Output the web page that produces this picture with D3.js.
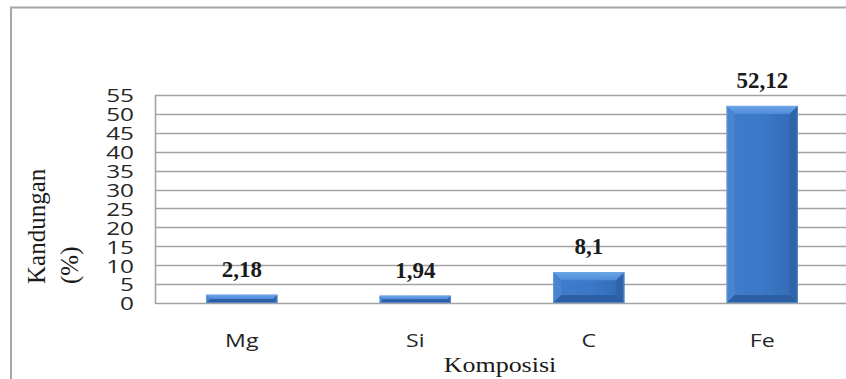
<!DOCTYPE html>
<html>
<head>
<meta charset="utf-8">
<script src="https://cdn.jsdelivr.net/npm/d3@7/dist/d3.min.js"></script>
<style>
  html, body { margin: 0; padding: 0; background: #fff; }
  svg { display: block; }
</style>
</head>
<body>
<svg id="chart" width="846" height="379"></svg>
<script>
// Element composition (percent)
const categories = ["Mg", "Si", "C", "Fe"];
const values = [2.18, 1.94, 8.1, 52.12];
const valueLabels = ["2,18", "1,94", "8,1", "52,12"];
const yTicks = [0, 5, 10, 15, 20, 25, 30, 35, 40, 45, 50, 55];

const svg = d3.select("#chart");
const W = 846, H = 379;
const plot = { left: 155, right: 849, top: 95, bottom: 303 };

const x = d3.scaleBand()
  .domain(categories)
  .range([plot.left, plot.right])
  .paddingInner(0.59)
  .paddingOuter(0.295);

const y = d3.scaleLinear()
  .domain([0, 55])
  .range([plot.bottom, plot.top]);

// Outer chart frame
svg.append("rect")
  .attr("x", 11).attr("y", 7.5)
  .attr("width", W + 10).attr("height", H + 10)
  .attr("fill", "#fff")
  .attr("stroke", "#a6a6a6").attr("stroke-width", 2);

// Gridlines
svg.append("g")
  .selectAll("line")
  .data(yTicks)
  .join("line")
  .attr("x1", plot.left).attr("x2", plot.right)
  .attr("y1", d => Math.round(y(d)) + 0.5)
  .attr("y2", d => Math.round(y(d)) + 0.5)
  .attr("stroke", "#a3a3a3").attr("stroke-width", 1.6);

// Plot area left edge
svg.append("line")
  .attr("x1", plot.left + 0.5).attr("x2", plot.left + 0.5)
  .attr("y1", y(55)).attr("y2", y(0) + 1)
  .attr("stroke", "#a3a3a3").attr("stroke-width", 1.6);

// Y axis tick labels (narrow-height, wide digits, stacked tightly)
const yAxis = d3.axisLeft(y).tickValues(yTicks).tickSize(0).tickPadding(0);
const gy = svg.append("g")
  .attr("transform", `translate(134,0)`)
  .call(yAxis);
gy.select(".domain").remove();
gy.selectAll("text")
  .attr("font-family", "'Open Sans', sans-serif")
  .attr("font-size", 19)
  .attr("fill", "#262626")
  .attr("dy", "0.36em")
  .attr("transform", "scale(1.28,1)");

// Bar gradients
const defs = svg.append("defs");
const body = defs.append("linearGradient").attr("id", "barBody")
  .attr("x1", 0).attr("y1", 0).attr("x2", 1).attr("y2", 0);
body.append("stop").attr("offset", "0%").attr("stop-color", "#3f7dcc");
body.append("stop").attr("offset", "50%").attr("stop-color", "#3b78c7");
body.append("stop").attr("offset", "100%").attr("stop-color", "#3369b3");
const topGrad = defs.append("linearGradient").attr("id", "barTop")
  .attr("x1", 0).attr("y1", 0).attr("x2", 0).attr("y2", 1);
topGrad.append("stop").attr("offset", "0%").attr("stop-color", "#6aa5ea");
topGrad.append("stop").attr("offset", "100%").attr("stop-color", "#4f8bd8");

const bev = 8;
const bars = svg.append("g").selectAll("g")
  .data(categories.map((c, i) => ({ c, v: values[i], label: valueLabels[i] })))
  .join("g");

bars.each(function(d) {
  const g = d3.select(this);
  const x0 = x(d.c), x1 = x(d.c) + x.bandwidth();
  const y0 = y(d.v), y1 = y(0);
  const b = Math.min(bev, (y1 - y0) / 2, x.bandwidth() / 2);
  g.append("rect")
    .attr("x", x0).attr("y", y0)
    .attr("width", x1 - x0).attr("height", y1 - y0)
    .attr("fill", "url(#barBody)");
  const facet = (pts, fill) => g.append("polygon")
    .attr("points", pts.map(p => p.join(",")).join(" "))
    .attr("fill", fill);
  // top bevel
  facet([[x0, y0], [x1, y0], [x1 - b, y0 + b], [x0 + b, y0 + b]], "url(#barTop)");
  // left bevel
  facet([[x0, y0], [x0 + b, y0 + b], [x0 + b, y1 - b], [x0, y1]], "#4984d1");
  // right bevel
  facet([[x1, y0], [x1, y1], [x1 - b, y1 - b], [x1 - b, y0 + b]], "#3064aa");
  // bottom bevel
  facet([[x0, y1], [x0 + b, y1 - b], [x1 - b, y1 - b], [x1, y1]], "#2e5fa4");
  g.append("rect")
    .attr("x", x0 + 0.5).attr("y", y0 + 0.5)
    .attr("width", x1 - x0 - 1).attr("height", Math.max(0, y1 - y0 - 1))
    .attr("fill", "none").attr("stroke", "#6fa3e3").attr("stroke-opacity", 0.6)
    .attr("stroke-width", 1);
});

// Value labels
bars.append("text")
  .attr("x", d => x(d.c) + x.bandwidth() / 2)
  .attr("y", d => y(d.v) - 18)
  .attr("text-anchor", "middle")
  .attr("font-family", "'Liberation Serif', 'Times New Roman', serif")
  .attr("font-weight", "bold")
  .attr("font-size", 23)
  .attr("fill", "#1a1a1a")
  .text(d => d.label);

// Category labels
const xAxis = d3.axisBottom(x).tickSize(0).tickPadding(0);
const gx = svg.append("g")
  .attr("transform", `translate(0,${plot.bottom})`)
  .call(xAxis);
gx.select(".domain").remove();
gx.selectAll("text")
  .attr("font-family", "'Open Sans', sans-serif")
  .attr("font-size", 19)
  .attr("fill", "#262626")
  .attr("dy", 0)
  .attr("y", 44)
  .attr("transform", "scale(1.22,1)");

// Axis titles
svg.append("text")
  .attr("transform", "translate(500,372) scale(1.18,1)")
  .attr("text-anchor", "middle")
  .attr("font-family", "'Liberation Serif', 'Times New Roman', serif")
  .attr("font-size", 22)
  .attr("fill", "#1a1a1a")
  .text("Komposisi");

const yTitle = svg.append("text")
  .attr("transform", "translate(0,284) rotate(-90)")
  .attr("font-family", "'Liberation Serif', 'Times New Roman', serif")
  .attr("font-size", 25)
  .attr("fill", "#1a1a1a");
yTitle.append("tspan").attr("x", 0).attr("y", 45).text("Kandungan");
yTitle.append("tspan").attr("x", 0).attr("y", 78).text("(%)");
</script>
</body>
</html>
